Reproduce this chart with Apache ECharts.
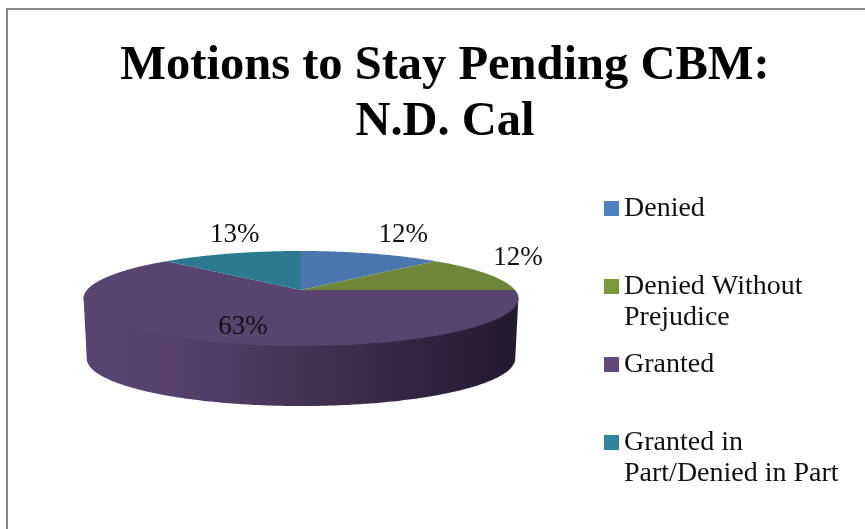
<!DOCTYPE html>
<html>
<head>
<meta charset="utf-8">
<title>Motions to Stay Pending CBM</title>
<script src="https://cdn.jsdelivr.net/npm/echarts@6/dist/echarts.min.js"></script>
<style>
  html, body { margin: 0; padding: 0; background: #fff; }
  #chart { width: 865px; height: 529px; }
</style>
</head>
<body>
<div id="chart"></div>
<script>
  const categories = ['Denied', 'Denied Without Prejudice', 'Granted', 'Granted in Part/Denied in Part'];
  const shares = [12.5, 12.5, 62.5, 12.5];
  const shareLabels = ['12%', '12%', '63%', '13%'];

  const FONT = '"Liberation Serif", serif';
  const topColors = ['#4a78ae', '#6f8638', '#57446f', '#2b7a90'];
  const legendColors = ['#4f81bd', '#7c983f', '#604a7b', '#31859c'];
  const legendNames = {
    'Denied': 'Denied',
    'Denied Without Prejudice': '\nDenied Without\nPrejudice',
    'Granted': 'Granted',
    'Granted in Part/Denied in Part': '\nGranted in\nPart/Denied in Part'
  };
  // label offset from the rim point at the slice's middle angle
  const labelOffsets = [[32, -19], [32, -16], [40, -14], [4, -19]];

  // pie tilted in perspective
  const CX = 301, CY = 290, RX = 214, RY = 46, PERSP = 0.179, DEPTH = 60, FOOT = 0.985;
  const total = shares.reduce((a, b) => a + b, 0);

  // t is clockwise from 12 o'clock, in radians
  function project(t) {
    const X = Math.sin(t), Y = -Math.cos(t);
    const w = 1 - PERSP * Y;
    return [CX + RX * X / w, CY + RY * Y / w];
  }

  function arcPoints(from, to, dy, squeeze) {
    const pts = [];
    const steps = Math.max(2, Math.ceil(Math.abs(to - from) / 0.01));
    for (let i = 0; i <= steps; i++) {
      const p = project(from + (to - from) * i / steps);
      pts.push([CX + (p[0] - CX) * squeeze, p[1] + dy]);
    }
    return pts;
  }

  // outline points where the wall becomes visible
  const wallFrom = Math.PI - Math.acos(PERSP);
  const wallTo = Math.PI + Math.acos(PERSP);

  const wallFill = new echarts.graphic.LinearGradient(84, 0, 519, 0, [
    { offset: 0, color: '#57446f' },
    { offset: 0.2, color: '#56426d' },
    { offset: 0.55, color: '#41314f' },
    { offset: 0.8, color: '#2f2340' },
    { offset: 1, color: '#231a2d' }
  ], true);

  function renderSlice(index) {
    return function (params, api) {
      const before = shares.slice(0, index).reduce((a, b) => a + b, 0);
      const start = before / total * Math.PI * 2;
      const end = (before + api.value(0)) / total * Math.PI * 2;
      const children = [];

      const a = Math.max(start, wallFrom), b = Math.min(end, wallTo);
      if (b > a) {
        // upper edge tucked under the top face so no seam shows
        const upper = arcPoints(a, b, -3, 1);
        const lower = arcPoints(b, a, DEPTH, FOOT);
        children.push({
          type: 'polygon',
          shape: { points: upper.concat(lower) },
          style: { fill: wallFill }
        });
      }

      children.push({
        type: 'polygon',
        shape: { points: [[CX, CY]].concat(arcPoints(start, end, 0, 1)) },
        style: { fill: topColors[index] }
      });

      const rim = project((start + end) / 2);
      children.push({
        type: 'text',
        x: rim[0] + labelOffsets[index][0],
        y: rim[1] + labelOffsets[index][1],
        z2: 10,
        style: {
          text: shareLabels[index],
          fontFamily: FONT,
          fontSize: 27,
          fill: '#111',
          align: 'center',
          verticalAlign: 'middle'
        }
      });
      return { type: 'group', children: children };
    };
  }

  const myChart = echarts.init(document.getElementById('chart'));

  const option = {
    animation: false,
    backgroundColor: '#fff',
    title: {
      text: 'Motions to Stay Pending CBM:\nN.D. Cal',
      left: 440,
      top: 33,
      textAlign: 'center',
      textStyle: {
        fontFamily: FONT,
        fontSize: 48.5,
        fontWeight: 'bold',
        color: '#000',
        lineHeight: 56
      }
    },
    legend: {
      orient: 'vertical',
      left: 604,
      top: 193,
      padding: 0,
      itemWidth: 15,
      itemHeight: 15,
      itemGap: 16,
      icon: 'rect',
      data: categories.map((name, i) => ({ name: name, itemStyle: { color: legendColors[i] } })),
      formatter: name => legendNames[name],
      textStyle: {
        fontFamily: FONT,
        fontSize: 28,
        color: '#111',
        lineHeight: 31
      }
    },
    graphic: [
      {
        type: 'rect',
        shape: { x: 7, y: 9, width: 900, height: 600 },
        style: { fill: 'none', stroke: '#888', lineWidth: 2 },
        silent: true,
        z: -1
      }
    ],
    series: categories.map((name, i) => ({
      name: name,
      type: 'custom',
      coordinateSystem: 'none',
      itemStyle: { color: legendColors[i] },
      renderItem: renderSlice(i),
      data: [[shares[i]]]
    }))
  };

  myChart.setOption(option);
</script>
</body>
</html>
